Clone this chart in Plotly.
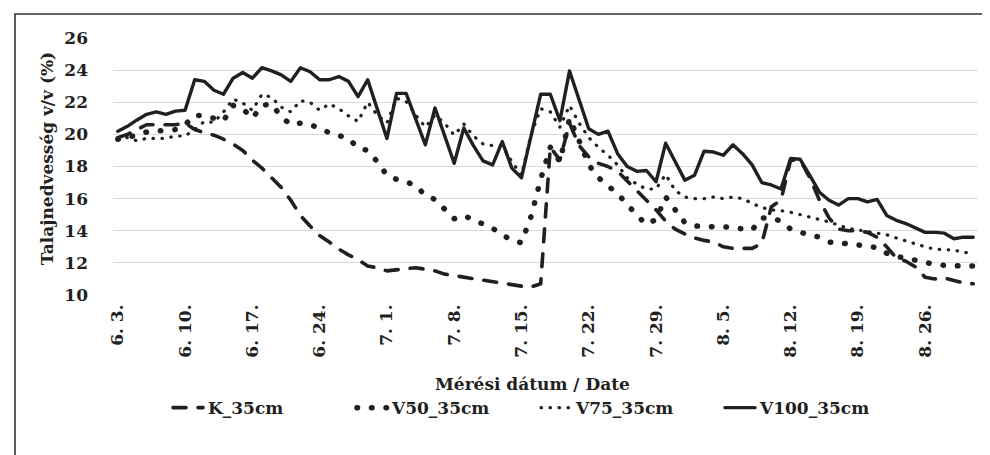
import plotly.graph_objects as go
import pandas as pd

# Daily measurement dates 6.3. .. 8.31.
dates = pd.date_range("2019-06-03", "2019-08-31", freq="D")
date_labels = [f"{d.month}. {d.day}." for d in dates]
tick_idx = list(range(0, 90, 7))
tick_labels = [date_labels[i] for i in tick_idx]

K_35cm = [19.8, 20.0, 20.3, 20.6, 20.6, 20.6, 20.6, 20.7, 20.3, 20.1,
          19.95, 19.7, 19.4, 19.0, 18.4, 17.9, 17.3, 16.7, 15.9, 14.95,
          14.3, 13.7, 13.3, 12.85, 12.5, 12.2, 11.8, 11.7, 11.5, 11.55,
          11.65, 11.7, 11.6, 11.5, 11.3, 11.2, 11.15, 11.0, 10.9, 10.8,
          10.7, 10.6, 10.55, 10.5, 10.7, 19.2, 18.4, 20.7, 19.3, 18.6,
          18.2, 18.0, 17.7, 17.1, 16.5, 15.9, 15.3, 14.6, 14.1, 13.8,
          13.55, 13.4, 13.3, 13.0, 12.9, 12.9, 12.9, 13.2, 15.5, 15.9,
          18.4, 18.4, 17.3, 15.9, 14.8, 14.1, 14.0, 14.0, 13.9, 13.6,
          13.0, 12.3, 12.1, 11.75, 11.1, 11.0, 11.05, 10.9, 10.75, 10.7]

V50_35cm = [19.7, 19.8, 19.95, 20.15, 20.2, 20.2, 20.3, 20.6, 21.2, 21.15,
            21.0, 20.85, 21.8, 21.6, 21.0, 21.8, 21.9, 21.1, 20.6, 20.7,
            20.6, 20.4, 20.1, 19.95, 19.75, 19.15, 19.0, 18.3, 17.45, 17.2,
            17.05, 16.8, 16.2, 15.95, 15.4, 14.75, 14.95, 14.7, 14.45, 14.15,
            13.75, 13.4, 13.25, 14.9, 17.2, 19.2, 18.3, 21.0, 19.6, 18.1,
            17.3, 16.8, 16.3, 15.65, 14.95, 14.4, 14.7, 16.1, 15.3, 14.5,
            14.3, 14.25, 14.25, 14.25, 14.2, 14.1, 14.05, 14.8, 14.8, 14.6,
            14.1, 13.9, 13.75, 13.6, 13.3, 13.2, 13.2, 13.1, 13.05, 12.95,
            12.6, 12.4, 12.3, 12.15, 12.05, 11.9, 11.85, 11.8, 11.8, 11.8]

V75_35cm = [19.75, 19.8, 19.6, 19.75, 19.75, 19.75, 19.9, 19.9, 20.3, 20.8,
            20.75, 21.4, 22.2, 21.95, 21.5, 22.5, 22.3, 21.7, 21.4, 22.1,
            22.0, 21.5, 21.9, 21.6, 21.15, 20.8, 22.0, 21.2, 20.7, 22.25,
            22.05, 21.2, 20.45, 21.2, 20.7, 19.95, 20.65, 19.9, 19.4, 19.3,
            19.3, 18.3, 17.45, 20.0, 21.6, 21.4, 20.45, 21.8, 20.7, 19.8,
            19.2, 18.7, 18.1, 17.3, 16.9, 16.6, 16.6, 17.5, 16.5, 16.1,
            16.0, 16.0, 16.1, 16.0, 16.1, 16.0, 15.7, 15.45, 15.3, 15.25,
            15.15, 15.0, 14.9, 14.75, 14.55, 14.35, 14.15, 14.05, 13.95, 13.9,
            13.75, 13.55, 13.35, 13.2, 13.0, 12.85, 12.8, 12.8, 12.65, 12.6]

V100_35cm = [20.2, 20.5, 20.9, 21.25, 21.4, 21.25, 21.45, 21.5, 23.4, 23.3,
             22.75, 22.5, 23.5, 23.85, 23.5, 24.15, 23.95, 23.7, 23.3, 24.15,
             23.9, 23.4, 23.4, 23.6, 23.3, 22.35, 23.4, 21.6, 19.75, 22.55,
             22.55, 20.95, 19.35, 21.65, 19.9, 18.2, 20.4, 19.3, 18.35, 18.1,
             19.55, 17.9, 17.3, 19.9, 22.5, 22.5, 20.85, 23.95, 22.2, 20.35,
             20.0, 20.2, 18.8, 18.0, 17.7, 17.75, 17.05, 19.45, 18.3, 17.15,
             17.45, 18.95, 18.9, 18.7, 19.35, 18.8, 18.1, 17.0, 16.85, 16.6,
             18.5, 18.45, 17.45, 16.4, 15.9, 15.6, 16.0, 16.0, 15.8, 15.95,
             14.95, 14.65, 14.45, 14.15, 13.9, 13.9, 13.85, 13.5, 13.6, 13.6]

series_names = ["K_35cm", "V50_35cm", "V75_35cm", "V100_35cm"]
series_values = [K_35cm, V50_35cm, V75_35cm, V100_35cm]

FONT = "DejaVu Serif"
INK = "#231f20"
x_idx = list(range(len(dates)))

styles = [
    dict(width=3.6, dash="13px,12px"),
    dict(width=5.5, dash="0.5px,14px"),
    dict(width=3.2, dash="0.5px,8.5px"),
    dict(width=3.4, dash="solid"),
]

fig = go.Figure()
for name, vals, st in zip(series_names, series_values, styles):
    fig.add_trace(go.Scatter(
        x=x_idx, y=vals, mode="lines", name=name,
        line=dict(color=INK, width=st["width"], dash=st["dash"]),
        hovertext=date_labels,
    ))

fig.update_layout(
    width=990, height=455,
    margin=dict(l=105, r=20, t=30, b=168),
    paper_bgcolor="white", plot_bgcolor="white",
    font=dict(family=FONT, color=INK, size=17, weight="bold"),
    showlegend=True,
    legend=dict(orientation="h", x=0.0636, xanchor="left", y=-0.44,
                yanchor="middle", font=dict(family=FONT, size=17, weight="bold", color=INK),
                entrywidth=139, entrywidthmode="pixels", bgcolor="rgba(0,0,0,0)"),
    xaxis=dict(range=[-0.5, 89.5], tickmode="array", tickvals=tick_idx,
               ticktext=tick_labels, tickangle=-90, showgrid=False, zeroline=False,
               showline=False, ticks="", ticklabelstandoff=5,
               tickfont=dict(family=FONT, size=17, weight="bold", color=INK)),
    yaxis=dict(range=[10, 26], dtick=2, tick0=10, showgrid=True, gridcolor="#d9d9d9",
               gridwidth=1.3, zeroline=False, showline=False, ticks="",
               ticklabelstandoff=24,
               tickfont=dict(family=FONT, size=17, weight="bold", color=INK)),
    annotations=[
        dict(text="Mérési dátum / Date", xref="paper", yref="paper",
             x=0.4855, y=-0.345, xanchor="center", yanchor="middle", showarrow=False,
             font=dict(family=FONT, size=17, weight="bold", color=INK)),
        dict(text="Talajnedvesség v/v (%)", xref="paper", yref="paper",
             x=-0.077, y=0.53, xanchor="center", yanchor="middle", showarrow=False,
             textangle=-90, font=dict(family=FONT, size=17, weight="bold", color=INK)),
    ],
    shapes=[
        dict(type="path", xref="paper", yref="paper",
             path="M -0.1133,-0.66 L -0.1133,1.0934 L 1.03,1.0934",
             line=dict(color="#333333", width=1.6)),
    ],
)

post = ("var s=document.createElement('style');"
        "s.innerHTML='.js-line{stroke-linecap:round;stroke-linejoin:round}';"
        "document.head.appendChild(s);")
fig.write_html("out.html", post_script=post)
